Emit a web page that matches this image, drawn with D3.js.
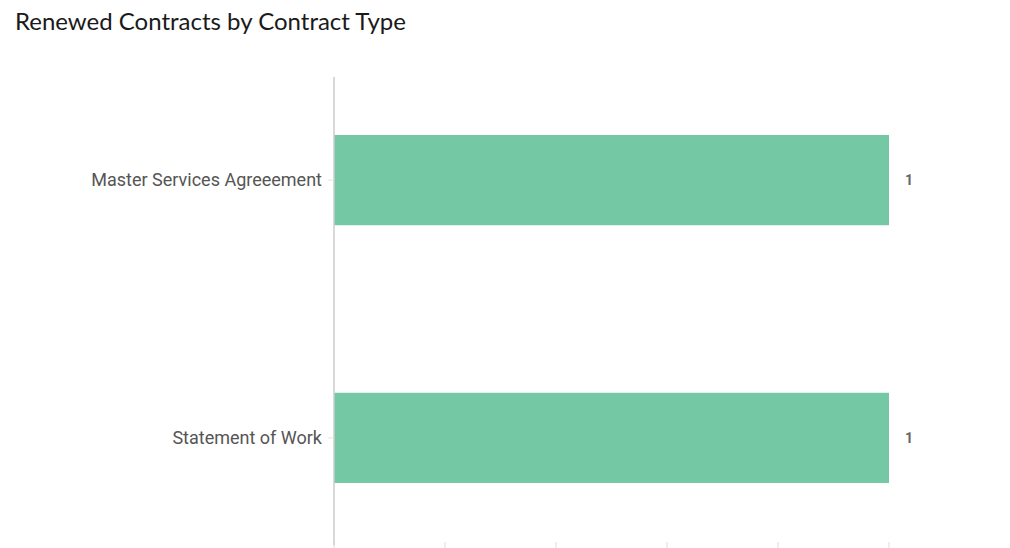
<!DOCTYPE html>
<meta charset="utf-8">
<style>
  body { margin: 0; background: #fff; }
  .title { font-family: Lato, "Open Sans", sans-serif; font-size: 24px; fill: #1a1a1a; }
  .cat { font-family: Roboto, sans-serif; font-size: 18px; fill: #555; }
  .val { font-family: Roboto, sans-serif; font-size: 14px; font-weight: bold; fill: #666; }
</style>
<body>
<script src="https://d3js.org/d3.v7.min.js"></script>
<script>
  var categories = ["Master Services Agreeement", "Statement of Work"];
  var values = [1, 1];
  var xTicks = [0, 0.2, 0.4, 0.6, 0.8, 1];

  var width = 1010, height = 548;
  var margin = {top: 77, right: 121, bottom: 7, left: 334};

  var svg = d3.select("body").append("svg")
      .attr("width", width)
      .attr("height", height);

  svg.append("text")
      .attr("class", "title")
      .attr("x", 15)
      .attr("y", 30)
      .text("Renewed Contracts by Contract Type");

  var x = d3.scaleLinear()
      .domain([0, 1])
      .range([margin.left, width - margin.right]);

  var y = d3.scaleBand()
      .domain(categories)
      .range([margin.top, height - margin.bottom])
      .paddingInner(0.65)
      .paddingOuter(0.225);

  // bottom ticks (no labels visible)
  svg.append("g")
    .selectAll("line")
    .data(xTicks)
    .enter().append("line")
      .attr("x1", function(d) { return x(d); })
      .attr("x2", function(d) { return x(d); })
      .attr("y1", height - 6)
      .attr("y2", height)
      .style("stroke", "#ddd")
      .style("stroke-width", 1);

  // bars
  svg.selectAll(".bar")
      .data(values)
    .enter().append("rect")
      .attr("class", "bar")
      .attr("x", x(0))
      .attr("y", function(d, i) { return y(categories[i]); })
      .attr("width", function(d) { return x(d) - x(0); })
      .attr("height", y.bandwidth())
      .style("fill", "#74c9a4");

  // y axis line
  svg.append("line")
      .attr("x1", margin.left)
      .attr("x2", margin.left)
      .attr("y1", margin.top)
      .attr("y2", height - 3)
      .style("stroke", "#ccc")
      .style("stroke-width", 1.5);

  // category ticks + labels
  var cat = svg.selectAll(".catg")
      .data(categories)
    .enter().append("g")
      .attr("class", "catg")
      .attr("transform", function(d) { return "translate(0," + (y(d) + y.bandwidth() / 2) + ")"; });

  cat.append("line")
      .attr("x1", margin.left - 6)
      .attr("x2", margin.left)
      .style("stroke", "#e3e3e3");

  cat.append("text")
      .attr("class", "cat")
      .attr("x", margin.left - 12)
      .attr("dy", "0.35em")
      .attr("text-anchor", "end")
      .text(function(d) { return d; });

  // value labels
  svg.selectAll(".val")
      .data(values)
    .enter().append("text")
      .attr("class", "val")
      .attr("x", function(d) { return x(d) + 16; })
      .attr("y", function(d, i) { return y(categories[i]) + y.bandwidth() / 2; })
      .attr("dy", "0.35em")
      .text(function(d) { return d; });
</script>
</body>
